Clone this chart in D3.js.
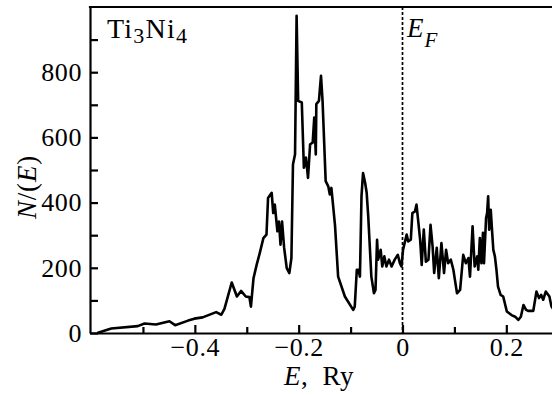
<!DOCTYPE html>
<html>
<head>
<meta charset="utf-8">
<script src="https://cdn.jsdelivr.net/npm/d3@7"></script>
<style>
  body { margin: 0; background: #fff; }
  svg { display: block; }
</style>
</head>
<body>
<svg id="chart" width="552" height="395"></svg>
<script>
// energy (Ry) and density of states
var energy = [-0.588,-0.561,-0.510,-0.497,-0.475,-0.449,-0.438,-0.413,-0.401,-0.385,-0.359,-0.349,-0.343,-0.329,-0.319,-0.311,-0.302,-0.295,-0.292,-0.287,-0.281,-0.275,-0.268,-0.262,-0.259,-0.252,-0.249,-0.246,-0.241,-0.238,-0.235,-0.232,-0.228,-0.223,-0.218,-0.214,-0.211,-0.207,-0.204,-0.201,-0.194,-0.190,-0.186,-0.182,-0.178,-0.173,-0.170,-0.167,-0.166,-0.161,-0.157,-0.154,-0.148,-0.143,-0.140,-0.137,-0.130,-0.124,-0.111,-0.095,-0.092,-0.088,-0.085,-0.082,-0.079,-0.076,-0.072,-0.069,-0.066,-0.060,-0.055,-0.052,-0.049,-0.047,-0.042,-0.039,-0.035,-0.031,-0.026,-0.021,-0.015,-0.009,-0.005,-0.002,0.001,0.008,0.011,0.016,0.019,0.024,0.027,0.030,0.034,0.037,0.041,0.045,0.050,0.054,0.058,0.061,0.066,0.070,0.075,0.080,0.084,0.088,0.093,0.098,0.101,0.105,0.111,0.117,0.122,0.127,0.130,0.135,0.139,0.144,0.146,0.149,0.152,0.155,0.157,0.161,0.163,0.165,0.167,0.170,0.172,0.175,0.178,0.181,0.184,0.189,0.194,0.201,0.210,0.217,0.223,0.228,0.233,0.238,0.242,0.252,0.258,0.263,0.267,0.271,0.276,0.283,0.287,0.292];
var dos = [0,14,21,29,26,36,24,38,44,48,64,56,74,155,112,129,112,110,81,168,209,245,291,302,414,430,368,394,312,342,271,342,261,199,184,230,517,548,973,712,707,507,538,476,579,584,661,548,702,712,789,712,466,450,425,445,330,173,112,71,81,194,194,173,419,491,461,430,358,173,122,132,286,225,255,204,235,204,225,204,225,240,214,204,255,302,281,286,368,373,394,348,286,209,317,219,225,332,265,184,261,168,276,184,255,214,225,194,163,122,132,240,214,230,173,327,204,235,194,291,214,307,214,353,368,419,317,378,327,255,235,194,142,117,112,66,55,50,40,50,86,71,68,68,127,107,117,102,127,112,81,70];

var xMajor = [-0.4, -0.2, 0, 0.2];
var xMinor = [-0.5, -0.3, -0.1, 0.1];
var yMajor = [0, 200, 400, 600, 800];
var yMinor = [100, 300, 500, 700, 900];

var plotLeft = 90, plotRight = 552, plotTop = 7, plotBottom = 333;
var serif = "'Liberation Serif', 'Times New Roman', serif";

var svg = d3.select("#chart");
var x = d3.scaleLinear().domain([-0.602, 0.288]).range([plotLeft, plotRight]);
var y = d3.scaleLinear().domain([0, 1000]).range([plotBottom, plotTop]);

svg.append("defs").append("clipPath").attr("id", "plot")
  .append("rect").attr("x", plotLeft).attr("y", plotTop - 2)
  .attr("width", plotRight - plotLeft).attr("height", plotBottom - plotTop + 2);

// fermi level
svg.append("line")
  .attr("x1", x(0)).attr("x2", x(0))
  .attr("y1", y(1000)).attr("y2", y(0))
  .attr("stroke", "#000").attr("stroke-width", 1.7)
  .attr("stroke-dasharray", "3,2");

var line = d3.line().x(function(d, i) { return x(energy[i]); }).y(function(d) { return y(d); });
svg.append("path").datum(dos)
  .attr("clip-path", "url(#plot)")
  .attr("d", line)
  .attr("fill", "none").attr("stroke", "#000")
  .attr("stroke-width", 2.6).attr("stroke-linejoin", "round");

function style(g) {
  g.attr("font-family", serif).attr("font-size", 26);
  g.selectAll("path, line").attr("stroke", "#000").attr("stroke-width", 2.2);
  g.selectAll("text").attr("fill", "#000").attr("letter-spacing", 0.6);
}

var fmt = function(d) { return d === 0 ? "0" : d3.format(".1f")(d).replace("-", "\u2212"); };

svg.append("g").attr("transform", "translate(0," + plotBottom + ")")
  .call(d3.axisBottom(x).tickValues(xMajor).tickFormat(fmt).tickSize(-8).tickSizeOuter(0).tickPadding(3))
  .call(style)
  .selectAll("text").attr("dy", "0.76em");
svg.append("g").attr("transform", "translate(0," + plotBottom + ")")
  .call(d3.axisBottom(x).tickValues(xMinor).tickFormat("").tickSize(-6).tickSizeOuter(0))
  .call(style).select(".domain").remove();

svg.append("g").attr("transform", "translate(" + plotLeft + ",0)")
  .call(d3.axisLeft(y).tickValues(yMajor).tickSize(-8).tickSizeOuter(0).tickPadding(8))
  .call(style);
svg.append("g").attr("transform", "translate(" + plotLeft + ",0)")
  .call(d3.axisLeft(y).tickValues(yMinor).tickFormat("").tickSize(-8).tickSizeOuter(0))
  .call(style).select(".domain").remove();

// top frame
svg.append("line").attr("x1", plotLeft - 1.1).attr("x2", plotRight).attr("y1", plotTop).attr("y2", plotTop)
  .attr("stroke", "#000").attr("stroke-width", 2.2);

// axis titles
var xt = svg.append("text").attr("x", 319).attr("y", 385).attr("text-anchor", "middle")
  .attr("font-family", serif).attr("font-size", 27).attr("letter-spacing", 0.6);
xt.append("tspan").attr("font-style", "italic").text("E");
xt.append("tspan").text(",\u2002Ry");

var yt = svg.append("text").attr("transform", "translate(36,187) rotate(-90)")
  .attr("text-anchor", "middle").attr("font-family", serif).attr("font-size", 27)
  .attr("letter-spacing", 0.8);
yt.append("tspan").attr("font-style", "italic").text("N");
yt.append("tspan").text("/(");
yt.append("tspan").attr("font-style", "italic").text("E");
yt.append("tspan").text(")");

// compound label
var ct = svg.append("text").attr("x", 107).attr("y", 38)
  .attr("font-family", serif).attr("font-size", 28).attr("letter-spacing", 1.2);
ct.append("tspan").text("Ti");
ct.append("tspan").attr("font-size", 22).attr("dy", 5).text("3");
ct.append("tspan").attr("dy", -5).text("Ni");
ct.append("tspan").attr("font-size", 22).attr("dy", 5).text("4");

var ef = svg.append("text").attr("x", 407).attr("y", 37)
  .attr("font-family", serif).attr("font-size", 27).attr("font-style", "italic");
ef.append("tspan").text("E");
ef.append("tspan").attr("font-size", 21).attr("dx", 1).attr("dy", 10).text("F");
</script>
</body>
</html>
